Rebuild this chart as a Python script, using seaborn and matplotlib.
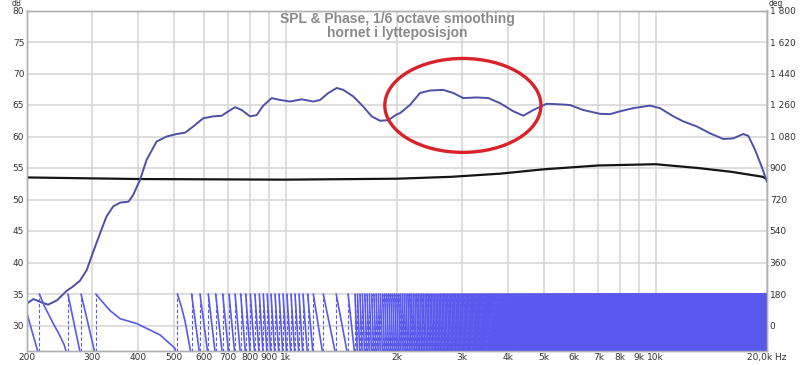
import numpy as np
import pandas as pd
import matplotlib
matplotlib.use("Agg")
import matplotlib.pyplot as plt
import seaborn as sns
from matplotlib.patches import Ellipse

# ---------------- data ----------------
# SPL curve (1/6 octave smoothed), dB
spl_hz = [200, 208, 217, 228, 241, 256, 265, 278, 290, 302, 315, 328, 342, 357, 376, 387,
          404, 421, 448, 477, 508, 535, 563, 599, 638, 672, 700, 730, 761, 801, 835, 870,
          917, 966, 1028, 1105, 1188, 1239, 1304, 1374, 1432, 1524, 1621, 1708, 1799, 1895,
          1996, 2037, 2168, 2307, 2455, 2668, 2839, 3022, 3285, 3530, 3796, 4126, 4390, 4670,
          5077, 5514, 5869, 6375, 7076, 7528, 8012, 8702, 9658, 10276, 11166, 11878, 12915,
          14030, 15238, 16214, 17254, 17803, 18564, 19352, 20000]
spl_db = [33.5, 34.2, 33.75, 33.3, 34.0, 35.5, 36.1, 37.1, 38.8, 41.7, 44.6, 47.3, 48.9, 49.5, 49.65, 50.7,
          53.1, 56.3, 59.2, 60.0, 60.4, 60.6, 61.6, 62.9, 63.2, 63.3, 64.0, 64.65, 64.2, 63.2, 63.4, 64.9,
          66.1, 65.8, 65.55, 65.9, 65.55, 65.8, 66.9, 67.7, 67.4, 66.35, 64.75, 63.2, 62.5, 62.6,
          63.5, 63.7, 65.0, 66.9, 67.3, 67.4, 66.9, 66.1, 66.2, 66.1, 65.3, 64.0, 63.3, 64.2,
          65.2, 65.1, 65.0, 64.2, 63.6, 63.55, 64.0, 64.5, 64.9, 64.5, 63.2, 62.4, 61.6,
          60.5, 59.6, 59.7, 60.4, 60.1, 57.9, 55.2, 52.8]

# second (black) curve, dB
ref_hz = [200, 400, 1000, 2000, 2800, 3800, 5000, 7000, 10000, 13000, 16000, 19500, 20000]
ref_db = [53.5, 53.25, 53.15, 53.3, 53.6, 54.1, 54.8, 55.4, 55.6, 55.0, 54.4, 53.6, 53.2]

# phase (wrapped, deg): start value, wrap frequencies (-180 -> +180) and readings inside long segments
phase_start_hz, phase_start_deg = 200, 68
wrap_hz = [216, 258, 280, 307, 510, 557, 587, 618, 647, 676, 703, 730, 756, 780, 803, 826,
           849, 870, 892, 913, 936, 960, 984, 1008, 1034, 1060, 1087, 1114, 1147, 1188,
           1264, 1370, 1475, 1540]
phase_mid_hz = [223, 235, 245, 252, 315, 335, 357, 396, 458, 502, 524, 535]
phase_mid_deg = [110, 15, -55, -110, 151, 86, 39, 11, -54, -130, 100, 23]
# above ~1.5 kHz the wraps become a dense band, spacing read as ~24 Hz
dense_start_hz, dense_step_hz = 1540, 24

x_ticks = [200, 300, 400, 500, 600, 700, 800, 900, 1000, 2000, 3000, 4000, 5000, 6000,
           7000, 8000, 9000, 10000, 20000]
x_labels = ["200", "300", "400", "500", "600", "700", "800", "900", "1k", "2k", "3k", "4k",
            "5k", "6k", "7k", "8k", "9k", "10k", "20,0k Hz"]
db_ticks = [30, 35, 40, 45, 50, 55, 60, 65, 70, 75, 80]
deg_ticks = [0, 180, 360, 540, 720, 900, 1080, 1260, 1440, 1620, 1800]
deg_labels = ["0", "180", "360", "540", "720", "900", "1 080", "1 260", "1 440", "1 620", "1 800"]
title_lines = ["SPL & Phase, 1/6 octave smoothing", "hornet i lytteposisjon"]

# ---------------- build phase segments ----------------
dense_wraps = list(np.arange(dense_start_hz + dense_step_hz, 20000, dense_step_hz))
all_wraps = wrap_hz + dense_wraps
bounds = [phase_start_hz] + all_wraps + [20000]
rows = []
for i in range(len(bounds) - 1):
    a, b = bounds[i], bounds[i + 1]
    d0 = phase_start_deg if i == 0 else 180
    if b == 20000:
        d1 = 180 - 360 * (b - a) / dense_step_hz
    else:
        d1 = -180
    rows.append((a, d0, i))
    for mf, md in zip(phase_mid_hz, phase_mid_deg):
        if a < mf < b:
            rows.append((mf, md, i))
    rows.append((b, d1, i))
phase_df = pd.DataFrame(rows, columns=["f", "deg", "seg"])

spl_df = pd.DataFrame({"f": spl_hz, "db": spl_db})
ref_df = pd.DataFrame({"f": ref_hz, "db": ref_db})

# ---------------- plot ----------------
sns.set_theme(style="white")
plt.rcParams["font.family"] = ["DejaVu Sans"]

fig = plt.figure(figsize=(8.0, 3.65), dpi=100)
ax = fig.add_axes([27 / 800, (365 - 350.7) / 365, 740 / 800, (350.7 - 10.5) / 365])
ax.set_xscale("log")
ax.set_xlim(200, 20000)
ax.set_ylim(26, 80)

grid_c = "#d4d4d4"
for t in x_ticks:
    ax.axvline(t, color=grid_c, lw=1.1, zorder=0)
for t in db_ticks:
    ax.axhline(t, color=grid_c, lw=1.1, zorder=0)

sns.lineplot(data=ref_df, x="f", y="db", ax=ax, color="#151515", lw=1.6, zorder=3)
sns.lineplot(data=spl_df, x="f", y="db", ax=ax, color="#4f4fa8", lw=1.4, zorder=4)

ax2 = ax.twinx()
ax2.set_xscale("log")
ax2.set_xlim(200, 20000)
ax2.set_ylim((26 - 30) * 36, 1800)
phase_c = "#5959ee"
sns.lineplot(data=phase_df, x="f", y="deg", units="seg", estimator=None, sort=False,
             ax=ax2, color=phase_c, lw=1.2)
ax2.vlines(all_wraps, -180, 180, colors=phase_c, linestyles=(0, (3, 2)), lw=0.8)

ax.set_xticks(x_ticks)
ax.set_xticklabels(x_labels)
ax.xaxis.set_minor_locator(matplotlib.ticker.NullLocator())
ax2.xaxis.set_minor_locator(matplotlib.ticker.NullLocator())
ax.set_yticks(db_ticks)
ax.set_yticklabels([str(t) for t in db_ticks])
ax2.set_yticks(deg_ticks)
ax2.set_yticklabels(deg_labels)
for a in (ax, ax2):
    a.tick_params(axis="both", length=0, labelsize=6.5, colors="#333333", pad=2)
    a.set_xlabel("")
    a.set_ylabel("")
    for s in a.spines.values():
        s.set_color("#b0b0b0")
        s.set_linewidth(1.0)
for lab in ax.get_yticklabels() + ax2.get_yticklabels():
    lab.set_verticalalignment("center_baseline")

fig.text(12 / 800, 1 + 1.0 / 365, "dB", fontsize=5.5, color="#333333", va="top", ha="left")
fig.text(769 / 800, 1 + 1.0 / 365, "deg", fontsize=5.5, color="#333333", va="top", ha="left")

ax2.text(0.5, 0.995, title_lines[0] + "\n" + title_lines[1], transform=ax2.transAxes,
         ha="center", va="top", fontsize=10, fontweight="bold", color="#8a8a8a",
         family=["Liberation Sans", "DejaVu Sans"], linespacing=1.0)

ax2.add_patch(Ellipse((0.589, 0.721), 0.211, 0.276, transform=ax2.transAxes,
                      fill=False, ec="#d8232a", lw=2.4, zorder=10))

fig.savefig("out.png", dpi=100)
